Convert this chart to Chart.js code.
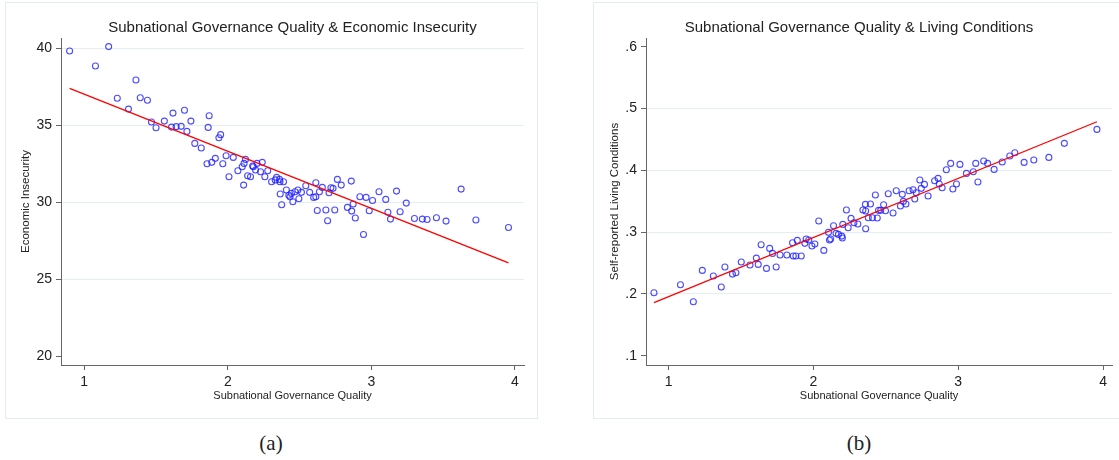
<!DOCTYPE html>
<html>
<head>
<meta charset="utf-8">
<script src="https://cdn.jsdelivr.net/npm/chart.js@4.4.1/dist/chart.umd.min.js"></script>
<style>
  body {
    margin: 0;
    width: 1119px;
    height: 460px;
    overflow: hidden;
    background: #fff;
    position: relative;
  }
  .panel {
    position: absolute;
    top: 2px;
    height: 417px;
    border: 1px solid #e3ecee;
    box-sizing: border-box;
  }
  #panelA { left: 5px; width: 533px; }
  #panelB { left: 593px; width: 540px; }
  canvas { position: absolute; top: 3px; }
  #chartA { left: 5px; }
  #chartB { left: 606px; }
  .caption {
    position: absolute;
    top: 431px;
    width: 100px;
    line-height: 24px;
    text-align: center;
    font-family: "Liberation Serif", serif;
    font-size: 21px;
    color: #222;
  }
</style>
</head>
<body>
<div class="panel" id="panelA"></div>
<div class="panel" id="panelB"></div>
<canvas id="chartA" width="532" height="415"></canvas>
<canvas id="chartB" width="532" height="415"></canvas>
<div class="caption" style="left:221px">(a)</div>
<div class="caption" style="left:809px">(b)</div>

<script>
// ---- panel (a): governance quality vs economic insecurity ----
const govA = [
  0.898, 1.078, 1.170, 1.360, 1.230, 1.308, 1.390, 1.440, 1.468, 1.500,
  1.558, 1.618, 1.698, 1.743, 1.608, 1.640, 1.675, 1.715, 1.770, 1.815,
  1.870, 1.863, 1.950, 1.938, 1.855, 1.888, 1.913, 1.965, 1.988, 2.038,
  2.008, 2.070, 2.100, 2.113, 2.123, 2.110, 2.138, 2.158, 2.178, 2.193,
  2.203, 2.228, 2.240, 2.258, 2.278, 2.305, 2.340, 2.360, 2.363, 2.388,
  2.365, 2.375, 2.408, 2.433, 2.443, 2.453, 2.468, 2.488, 2.495, 2.513,
  2.543, 2.570, 2.598, 2.613, 2.613, 2.623, 2.638, 2.658, 2.683, 2.695,
  2.705, 2.733, 2.745, 2.763, 2.790, 2.833, 2.860, 2.863, 2.873, 2.888,
  2.920, 2.945, 2.963, 2.985, 3.008, 3.053, 3.100, 3.115, 3.133, 3.175,
  3.200, 3.243, 3.300, 3.355, 3.388, 3.453, 3.520, 3.625, 3.728, 3.955,
  2.173, 2.330, 2.425, 2.718
];
const econInsecurity = [
  39.83, 38.85, 40.11, 37.94, 36.75, 36.05, 36.79, 36.62, 35.21, 34.84,
  35.27, 35.79, 35.97, 35.27, 34.88, 34.91, 34.93, 34.60, 33.82, 33.52,
  35.62, 34.86, 34.39, 34.19, 32.50, 32.59, 32.85, 32.50, 33.02, 32.91,
  31.65, 32.04, 32.30, 32.52, 32.78, 31.11, 31.72, 31.65, 32.30, 32.09,
  32.52, 31.98, 32.59, 31.65, 32.04, 31.33, 31.61, 31.48, 31.33, 31.33,
  30.53, 29.83, 30.79, 30.35, 30.57, 30.03, 30.68, 30.79, 30.22, 30.64,
  31.07, 30.64, 30.31, 31.26, 30.35, 29.46, 30.68, 30.96, 29.49, 28.79,
  30.61, 30.90, 29.49, 31.48, 31.11, 29.66, 31.37, 29.42, 29.88, 28.97,
  30.35, 27.90, 30.31, 29.44, 30.11, 30.68, 30.18, 29.35, 28.90, 30.72,
  29.38, 29.94, 28.94, 28.90, 28.88, 28.99, 28.77, 30.85, 28.84, 28.36,
  32.35, 31.45, 30.45, 30.94
];
const fitXA = [0.898, 3.955];
const fitYA = [37.40, 26.06];
const yTicksA = [20, 25, 30, 35, 40];
const yLabelsA = ["20", "25", "30", "35", "40"];
const noGridA = [20];

// ---- panel (b): governance quality vs living conditions ----
const govB = [
  0.899, 1.082, 1.171, 1.233, 1.309, 1.364, 1.389, 1.441, 1.465, 1.502,
  1.562, 1.606, 1.619, 1.639, 1.676, 1.698, 1.718, 1.743, 1.770, 1.817,
  1.856, 1.861, 1.879, 1.889, 1.916, 1.941, 1.950, 1.968, 1.990, 2.010,
  2.037, 2.072, 2.104, 2.111, 2.119, 2.139, 2.156, 2.173, 2.196, 2.203,
  2.200, 2.228, 2.240, 2.260, 2.280, 2.307, 2.342, 2.359, 2.361, 2.361,
  2.379, 2.394, 2.408, 2.428, 2.441, 2.450, 2.465, 2.485, 2.498, 2.517,
  2.550, 2.572, 2.601, 2.614, 2.621, 2.639, 2.661, 2.688, 2.700, 2.710,
  2.735, 2.745, 2.767, 2.792, 2.837, 2.861, 2.869, 2.889, 2.918, 2.948,
  2.963, 2.988, 3.012, 3.057, 3.104, 3.121, 3.136, 3.176, 3.203, 3.248,
  3.304, 3.356, 3.391, 3.455, 3.522, 3.626, 3.733, 3.958
];
const livingCond = [
  0.2019, 0.2149, 0.1874, 0.2381, 0.2289, 0.2111, 0.2435, 0.2321, 0.2343, 0.2516,
  0.2467, 0.2580, 0.2478, 0.2796, 0.2413, 0.2737, 0.2656, 0.2435, 0.2629, 0.2629,
  0.2828, 0.2613, 0.2613, 0.2866, 0.2613, 0.2818, 0.2888, 0.2872, 0.2775, 0.2807,
  0.3179, 0.2704, 0.2996, 0.2872, 0.2888, 0.3104, 0.2980, 0.2963, 0.2936, 0.3125,
  0.2904, 0.3357, 0.3071, 0.3222, 0.3152, 0.3131, 0.3357, 0.3449, 0.3341, 0.3055,
  0.3233, 0.3454, 0.3233, 0.3600, 0.3228, 0.3352, 0.3352, 0.3443, 0.3346, 0.3622,
  0.3309, 0.3670, 0.3422, 0.3611, 0.3497, 0.3454, 0.3670, 0.3686, 0.3535, 0.3638,
  0.3843, 0.3708, 0.3772, 0.3584, 0.3832, 0.3870, 0.3778, 0.3718, 0.4010, 0.4112,
  0.3697, 0.3778, 0.4096, 0.3950, 0.3977, 0.4112, 0.3810, 0.4150, 0.4112, 0.4015,
  0.4134, 0.4231, 0.4285, 0.4128, 0.4166, 0.4209, 0.4436, 0.4662
];
const fitXB = [0.899, 3.958];
const fitYB = [0.1858, 0.4786];
const yTicksB = [0.1, 0.2, 0.3, 0.4, 0.5, 0.6];
const yLabelsB = [".1", ".2", ".3", ".4", ".5", ".6"];
const noGridB = [0.1, 0.6];

const xTicks = [1, 2, 3, 4];

Chart.defaults.font.family = '"Liberation Sans", Arial, sans-serif';
Chart.defaults.color = "#222";

const axisColor = "#666";
const gridColor = "#e4edf0";

function toPoints(xs, ys) {
  return xs.map((x, i) => ({ x: x, y: ys[i] }));
}

function scatterPanel(canvas, cfg) {
  return new Chart(canvas, {
    type: "scatter",
    data: {
      datasets: [
        {
          data: toPoints(cfg.fitX, cfg.fitY),
          showLine: true,
          borderColor: "#ff0000",
          borderWidth: 1.3,
          pointRadius: 0,
        },
        {
          data: toPoints(cfg.xs, cfg.ys),
          pointRadius: 3,
          borderWidth: 1.1,
          borderColor: "rgba(30, 30, 255, 0.8)",
          backgroundColor: "rgba(0, 0, 0, 0)",
        },
      ],
    },
    options: {
      responsive: false,
      animation: false,
      layout: { padding: { left: 0, right: cfg.padRight, top: 0, bottom: 0 } },
      plugins: {
        legend: { display: false },
        tooltip: { enabled: false },
        title: {
          display: true,
          text: cfg.title,
          fullSize: cfg.titleFull,
          font: { size: 15, weight: "normal" },
          padding: { top: 15.5, bottom: 1.5 },
        },
      },
      scales: {
        x: {
          type: "linear",
          min: cfg.xMin,
          max: cfg.xMax,
          afterBuildTicks: (scale) => {
            scale.ticks = xTicks.map((v) => ({ value: v }));
          },
          afterFit: (scale) => {
            scale.height = 53;
          },
          ticks: { font: { size: 14 }, padding: 4, color: "#222" },
          grid: {
            drawOnChartArea: false,
            drawTicks: true,
            tickLength: 5,
            tickColor: axisColor,
          },
          border: { display: true, color: axisColor, width: 1 },
          title: {
            display: true,
            text: "Subnational Governance Quality",
            font: { size: 11 },
            padding: { top: 4, bottom: 15.4 },
          },
        },
        y: {
          type: "linear",
          min: cfg.yMin,
          max: cfg.yMax,
          afterBuildTicks: (scale) => {
            scale.ticks = cfg.yTicks.map((v) => ({ value: v }));
          },
          afterFit: (scale) => {
            scale.width = cfg.yWidth;
          },
          ticks: {
            font: { size: 14 },
            padding: 4,
            color: "#222",
            callback: (value, index) => cfg.yLabels[index],
          },
          grid: {
            color: (ctx) =>
              ctx.tick && cfg.noGrid.includes(ctx.tick.value) ? "rgba(0,0,0,0)" : gridColor,
            drawTicks: true,
            tickLength: 5,
            tickColor: axisColor,
          },
          border: { display: true, color: axisColor, width: 1 },
          title: {
            display: true,
            text: cfg.yTitle,
            font: { size: 11.5 },
            padding: { top: cfg.yTitlePad, bottom: 0 },
          },
        },
      },
    },
  });
}

scatterPanel(document.getElementById("chartA"), {
  title: "Subnational Governance Quality & Economic Insecurity",
  titleFull: false,
  yTitle: "Economic Insecurity",
  xs: govA,
  ys: econInsecurity,
  fitX: fitXA,
  fitY: fitYA,
  xMin: 0.838,
  xMax: 4.063,
  yMin: 19.42,
  yMax: 40.67,
  yTicks: yTicksA,
  yLabels: yLabelsA,
  noGrid: noGridA,
  yWidth: 56,
  yTitlePad: 14.1,
  padRight: 13,
});

scatterPanel(document.getElementById("chartB"), {
  title: "Subnational Governance Quality & Living Conditions",
  titleFull: true,
  yTitle: "Self-reported Living Conditions",
  xs: govB,
  ys: livingCond,
  fitX: fitXB,
  fitY: fitYB,
  xMin: 0.844,
  xMax: 4.062,
  yMin: 0.085,
  yMax: 0.6141,
  yTicks: yTicksB,
  yLabels: yLabelsB,
  noGrid: noGridB,
  yWidth: 40,
  yTitlePad: 1.6,
  padRight: 26,
});
</script>
</body>
</html>
